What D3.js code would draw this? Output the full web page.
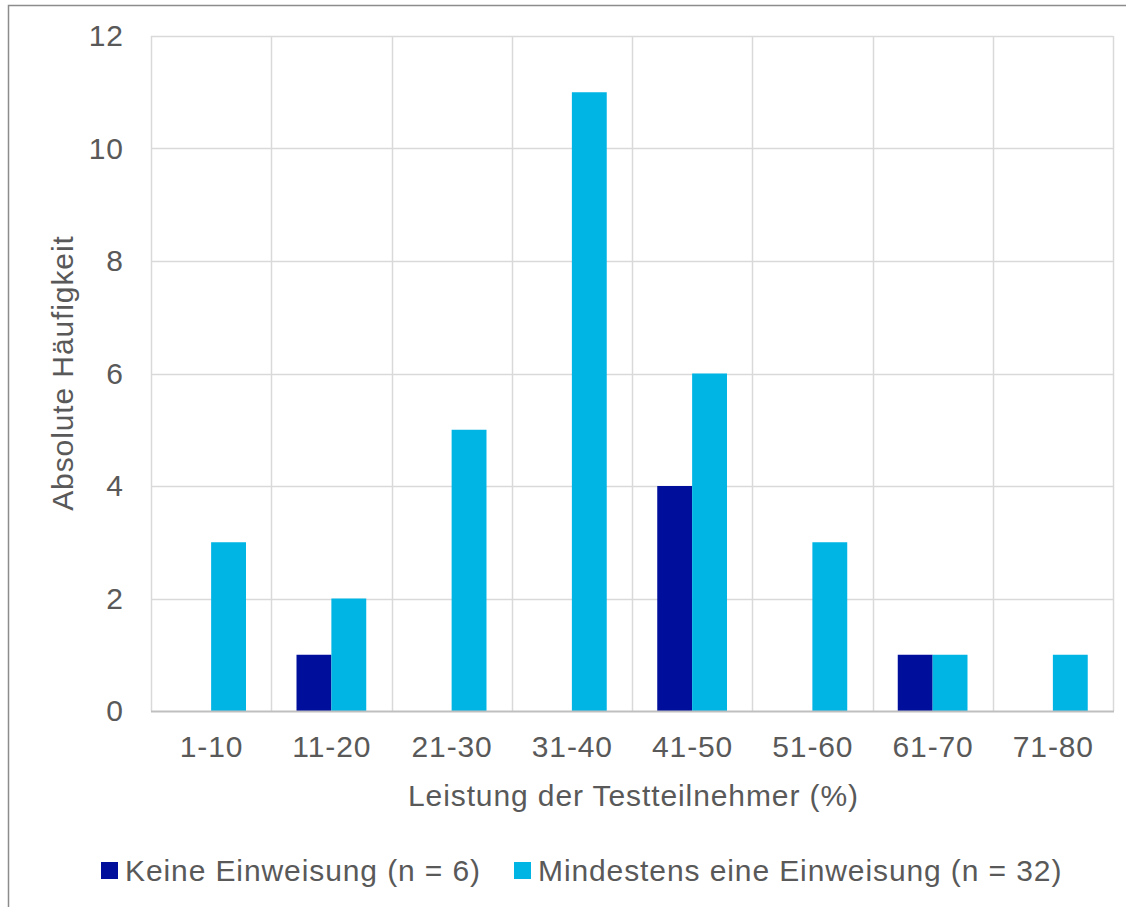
<!DOCTYPE html>
<html>
<head>
<meta charset="utf-8">
<script src="https://cdn.jsdelivr.net/npm/d3@7"></script>
<style>
  html, body { margin: 0; padding: 0; background: #fff; }
  svg { display: block; }
  text { font-family: "Liberation Sans", Arial, sans-serif; fill: #595959; letter-spacing: 0.9px; }
</style>
</head>
<body>
<svg id="chart" width="1126" height="907"></svg>
<script>
const categories = ["1-10", "11-20", "21-30", "31-40", "41-50", "51-60", "61-70", "71-80"];
const seriesNames = ["Keine Einweisung (n = 6)", "Mindestens eine Einweisung (n = 32)"];
const keineValues = [0, 1, 0, 0, 4, 0, 1, 0];
const mindestensValues = [3, 2, 5, 11, 6, 3, 1, 1];
const yTicks = [0, 2, 4, 6, 8, 10, 12];
const xTitle = "Leistung der Testteilnehmer (%)";
const yTitle = "Absolute Häufigkeit";

(function () {
const colors = ["#000E9C", "#00B4E4"];
const series = [keineValues, mindestensValues];

const svg = d3.select("#chart");
const fontSize = 30;
const ls = 0.9;

// outer frame (partially clipped at right/bottom)
svg.append("rect")
  .attr("x", 8.5).attr("y", 5.5)
  .attr("width", 1300).attr("height", 1000)
  .attr("fill", "none").attr("stroke", "#8C8C8C").attr("stroke-width", 1.5);

const pL = 151, pR = 1113, pT = 36, pB = 711;

const x = d3.scaleBand().domain(categories).range([pL, pR]).padding(0);
const y = d3.scaleLinear().domain([0, 12]).range([pB, pT]);

const barW = x.bandwidth() * 0.29;
const xs = d3.scaleBand().domain(d3.range(series.length))
  .range([0, barW * series.length]).padding(0);
const offset = (x.bandwidth() - barW * series.length) / 2;

// horizontal gridlines
svg.append("g").selectAll("line").data(yTicks.filter(d => d > 0)).join("line")
  .attr("x1", pL).attr("x2", pR)
  .attr("y1", d => Math.round(y(d)) + 0.5).attr("y2", d => Math.round(y(d)) + 0.5)
  .attr("stroke", "#D9D9D9").attr("stroke-width", 1.5);

// vertical gridlines at category boundaries
const bounds = categories.map(c => x(c)).concat([pR]);
svg.append("g").selectAll("line").data(bounds).join("line")
  .attr("x1", d => Math.round(d) + 0.5).attr("x2", d => Math.round(d) + 0.5)
  .attr("y1", pT).attr("y2", pB)
  .attr("stroke", "#D9D9D9").attr("stroke-width", 1.5);

// bars
series.forEach((vals, si) => {
  svg.append("g").selectAll("rect").data(vals).join("rect")
    .attr("x", (d, i) => x(categories[i]) + offset + xs(si))
    .attr("width", xs.bandwidth())
    .attr("y", d => y(d))
    .attr("height", d => y(0) - y(d))
    .attr("fill", colors[si]);
});

// bottom axis line
svg.append("line")
  .attr("x1", pL).attr("x2", pR + 1)
  .attr("y1", pB + 0.5).attr("y2", pB + 0.5)
  .attr("stroke", "#BFBFBF").attr("stroke-width", 2);

// y axis labels
const yAxis = d3.axisLeft(y).tickValues(yTicks).tickSize(0).tickPadding(28 - ls);
const gy = svg.append("g").attr("transform", `translate(${pL},0)`).call(yAxis);
gy.select(".domain").remove();
gy.selectAll("text").style("font-size", fontSize + "px").attr("fill", "#595959")
  .style("font-family", "'Liberation Sans', Arial, sans-serif");

// x axis labels
const xAxis = d3.axisBottom(x).tickSize(0).tickPadding(25);
const gx = svg.append("g").attr("transform", `translate(${ls / 2},${pB})`).call(xAxis);
gx.select(".domain").remove();
gx.selectAll("text").style("font-size", fontSize + "px").attr("fill", "#595959")
  .style("font-family", "'Liberation Sans', Arial, sans-serif");

// x title
svg.append("text")
  .attr("x", (pL + pR) / 2 + 1 + ls / 2).attr("y", 806)
  .attr("text-anchor", "middle")
  .style("font-size", fontSize + "px")
  .text(xTitle);

// y title
svg.append("text")
  .attr("transform", `translate(73,${(pT + pB) / 2 - ls / 2}) rotate(-90)`)
  .attr("text-anchor", "middle")
  .style("font-size", fontSize + "px")
  .text(yTitle);

// legend
const legendItems = [
  { sx: 101, tx: 125 },
  { sx: 514, tx: 538 }
];
legendItems.forEach((it, i) => {
  svg.append("rect")
    .attr("x", it.sx).attr("y", 862)
    .attr("width", 17).attr("height", 17)
    .attr("fill", colors[i]);
  svg.append("text")
    .attr("x", it.tx).attr("y", 881)
    .style("font-size", fontSize + "px")
    .text(seriesNames[i]);
});
})();
</script>
</body>
</html>
